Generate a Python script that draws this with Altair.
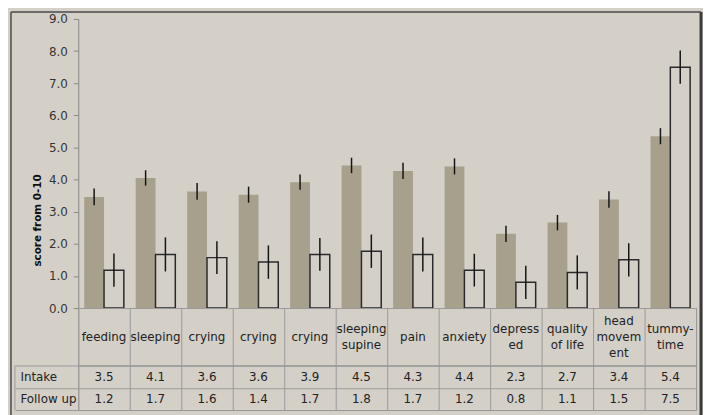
import altair as alt
import pandas as pd

# ---- data ----
header_labels = ["feeding", "sleeping", "crying", "crying", "crying", "sleeping\nsupine",
                 "pain", "anxiety", "depress\ned", "quality\nof life", "head\nmovem\nent", "tummy-\ntime"]
series = ["Intake", "Follow up"]
intake = [3.46, 4.05, 3.63, 3.53, 3.92, 4.44, 4.27, 4.41, 2.31, 2.66, 3.38, 5.35]
follow_up = [1.18, 1.67, 1.57, 1.43, 1.67, 1.77, 1.67, 1.18, 0.80, 1.11, 1.50, 7.50]
intake_err = [0.26, 0.24, 0.26, 0.25, 0.24, 0.24, 0.25, 0.25, 0.25, 0.24, 0.26, 0.25]
follow_err = [0.52, 0.53, 0.51, 0.52, 0.51, 0.52, 0.53, 0.51, 0.52, 0.53, 0.52, 0.52]
intake_table = ["3.5", "4.1", "3.6", "3.6", "3.9", "4.5", "4.3", "4.4", "2.3", "2.7", "3.4", "5.4"]
follow_table = ["1.2", "1.7", "1.6", "1.4", "1.7", "1.8", "1.7", "1.2", "0.8", "1.1", "1.5", "7.5"]
y_ticks = [0, 1, 2, 3, 4, 5, 6, 7, 8, 9]

BG = "#D4D0C8"
BAR = "#A7A08D"
LINE = "#9A9A9A"
FRAME = "#4A4A4A"
FONT = "DejaVu Sans"
FS = 12
LH = 16

W = 624
H_BARS, H_HEAD, H_VALS = 292, 58, 45

rows = []
for i in range(len(header_labels)):
    for s, vals, errs, tbl in [("Intake", intake, intake_err, intake_table),
                               ("Follow up", follow_up, follow_err, follow_table)]:
        rows.append({"idx": i, "series": s, "value": vals[i],
                     "lo": vals[i] - errs[i], "hi": vals[i] + errs[i], "label": tbl[i]})
df = pd.DataFrame(rows)
hdr = pd.DataFrame({"idx": list(range(len(header_labels))), "head": header_labels,
                    "nlines": [h.count("\n") + 1 for h in header_labels]})
one = pd.DataFrame({"k": [0]})

idx_dom = list(range(len(header_labels)))
xscale = alt.Scale(domain=idx_dom, paddingInner=0, paddingOuter=0)
xoff = alt.XOffset("series:N", scale=alt.Scale(domain=series, paddingInner=0, paddingOuter=0.3))
yscale = alt.Scale(domain=[0, 9], nice=False)

base = alt.Chart(df)
yaxis = alt.Axis(values=y_ticks, format=".1f", title="score from 0-10", titleFont=FONT,
                 titleFontSize=10.5, titleFontWeight="bold", titleColor="#111",
                 titleAngle=-90, titleBaseline="middle", titleX=-41, titleY=203,
                 labelFont=FONT, labelFontSize=FS, labelColor="#333", labelPadding=6,
                 domainColor="#888", tickColor="#888", tickSize=5, grid=False)

intake_bars = base.transform_filter(alt.datum.series == "Intake").mark_bar(
    color=BAR, stroke=None).encode(
    x=alt.X("idx:O", scale=xscale, axis=None),
    xOffset=xoff,
    y=alt.Y("value:Q", scale=yscale, axis=yaxis),
)
follow_bars = base.transform_filter(alt.datum.series == "Follow up").mark_bar(
    fill=BG, stroke="#2a2a2a", strokeWidth=1.5).encode(
    x=alt.X("idx:O", scale=xscale, axis=None),
    xOffset=xoff,
    y=alt.Y("value:Q", scale=yscale, axis=yaxis),
)
errs = base.mark_rule(color="#151515", strokeWidth=1.5).encode(
    x=alt.X("idx:O", scale=xscale, axis=None),
    xOffset=xoff,
    y=alt.Y("lo:Q", scale=yscale, axis=yaxis),
    y2="hi:Q",
)

# chart-area frame (decoration, like the spreadsheet chart border)
FT, FL, FR, FB = -7, -68, W + 5, H_BARS + H_HEAD + H_VALS + 5
frame_top = alt.Chart(one).mark_rule(color=FRAME, strokeWidth=1.5).encode(
    x=alt.value(FL), x2=alt.value(FR), y=alt.value(FT))
frame_left = alt.Chart(one).mark_rule(color=FRAME, strokeWidth=1.5).encode(
    x=alt.value(FL), y=alt.value(FT), y2=alt.value(FB))
frame_right = alt.Chart(one).mark_rule(color="#3C3C3C", strokeWidth=3).encode(
    x=alt.value(FR), y=alt.value(FT), y2=alt.value(FB))

bars = alt.layer(intake_bars, follow_bars, errs, frame_top, frame_left, frame_right).properties(
    width=W, height=H_BARS, view=alt.ViewBackground(stroke=None))

grid_x = alt.Axis(grid=True, gridColor=LINE, tickBand="extent", labels=False, ticks=False,
                  domain=False, title=None)

head_layers = []
for n in [1, 2, 3]:
    head_layers.append(
        alt.Chart(hdr).transform_filter(alt.datum.nlines == n).mark_text(
            font=FONT, fontSize=FS, color="#222", lineBreak="\n", lineHeight=LH,
            baseline="middle", dy=-(n - 1) * LH / 2).encode(
            x=alt.X("idx:O", scale=xscale, axis=grid_x),
            text="head:N",
        )
    )
header = alt.layer(*head_layers).properties(
    width=W, height=H_HEAD, view=alt.ViewBackground(stroke=LINE))

vals_text = alt.Chart(df).mark_text(font=FONT, fontSize=FS, color="#222").encode(
    x=alt.X("idx:O", scale=xscale, axis=grid_x),
    y=alt.Y("series:N", scale=alt.Scale(domain=series, paddingInner=0, paddingOuter=0),
            axis=alt.Axis(title=None, tickBand="extent", tickSize=64, tickColor=LINE,
                          grid=True, gridColor=LINE, domain=False, labelAlign="left",
                          labelPadding=-5, labelFont=FONT, labelFontSize=FS,
                          labelColor="#222")),
    text="label:N",
)
left_border = alt.Chart(one).mark_rule(color=LINE).encode(
    x=alt.value(-64), y=alt.value(0), y2=alt.value(H_VALS))
values = alt.layer(vals_text, left_border).properties(
    width=W, height=H_VALS, view=alt.ViewBackground(stroke=LINE))

chart = alt.vconcat(bars, header, values, spacing=0, bounds="flush").properties(
    background=BG, padding={"left": 2, "top": 0, "right": 0, "bottom": 0}
)

chart.save("out.html", embed_options={"renderer": "svg", "actions": False})
